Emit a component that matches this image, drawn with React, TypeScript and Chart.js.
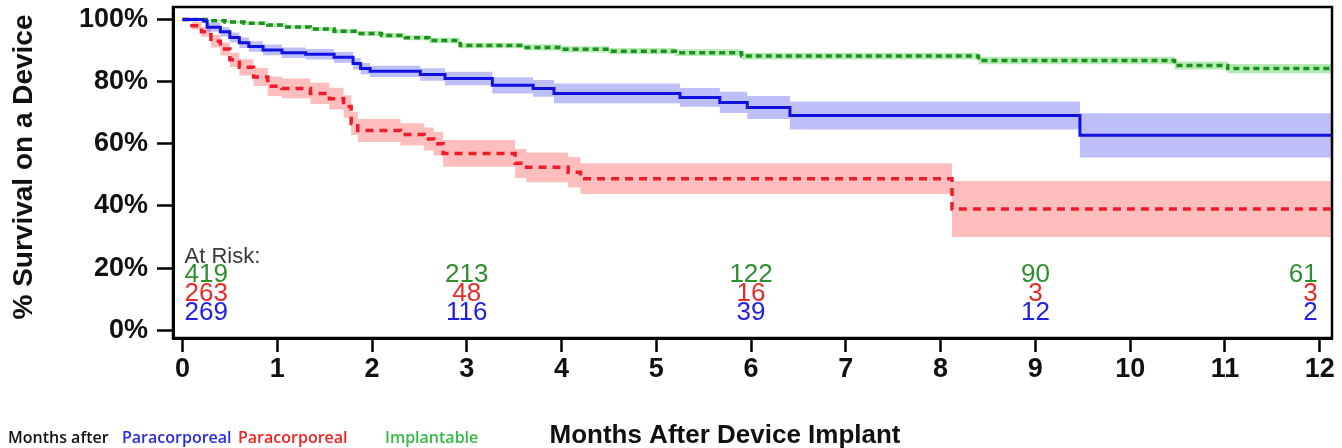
import React, { useEffect, useRef } from 'react';
import { Chart, registerables } from 'chart.js';

Chart.register(...registerables);

// ---------- axis ticks ----------
const xTickMonths = [0, 1, 2, 3, 4, 5, 6, 7, 8, 9, 10, 11, 12];
const yTickValues = [0, 20, 40, 60, 80, 100];

// ---------- Paracorporeal (blue, solid) ----------
const blueTimes = [0, 0.22, 0.26, 0.4, 0.5, 0.6, 0.7, 0.85, 1.05, 1.3, 1.6, 1.8, 1.88, 1.98, 2.51, 2.77, 3.27, 3.7, 3.92, 5.25, 5.67, 5.96, 6.41, 9.47, 12.13];
const blueSurvival = [100, 99.5, 97.5, 96, 94.2, 92.5, 91.3, 90.2, 89.3, 88.8, 87.8, 85.8, 84.2, 83.3, 82.3, 81.0, 78.8, 77.8, 76.2, 74.9, 73.3, 71.7, 69.1, 62.7, 62.7];
const blueUpper = [100, 100, 99, 97.5, 95.8, 94.2, 93, 91.9, 91, 90.5, 89.5, 87.6, 86, 85.1, 84.3, 83.2, 81.4, 80.5, 79.4, 77.9, 76.7, 75.4, 73.6, 69.8, 69.8];
const blueLower = [100, 98.9, 96, 94.5, 92.6, 90.8, 89.6, 88.5, 87.6, 87.1, 86.1, 84, 82.4, 81.5, 80.3, 78.8, 76.2, 75.1, 73, 71.9, 69.9, 68, 64.6, 55.6, 55.6];

// ---------- Paracorporeal (red, dashed) ----------
const redTimes = [0, 0.1, 0.2, 0.3, 0.4, 0.5, 0.6, 0.75, 0.9, 1.05, 1.35, 1.55, 1.7, 1.78, 1.85, 2.3, 2.55, 2.65, 2.75, 3.51, 3.63, 4.07, 4.2, 8.12, 12.13];
const redSurvival = [100, 98, 96, 93, 90.5, 87, 84.6, 81.5, 78.5, 77.8, 76.2, 74.5, 72, 66.5, 64.3, 63, 61.5, 60, 56.9, 53.7, 52.4, 50.8, 48.7, 39, 39];
const redUpper = [100, 99.2, 97.6, 95, 92.6, 89.3, 87.2, 84.4, 81.6, 81.0, 79.6, 78.0, 75.6, 70.2, 68, 66.6, 65.2, 63.8, 61.2, 58.3, 57.2, 55.7, 53.7, 48, 48];
const redLower = [100, 96.8, 94.4, 91, 88.4, 84.7, 82, 78.6, 75.4, 74.6, 72.8, 71.0, 68.4, 62.8, 60.6, 59.4, 57.8, 56.2, 52.6, 49, 47.6, 45.9, 43.8, 30, 30];

// ---------- Implantable (green, dotted) ----------
const greenTimes = [0, 0.25, 0.45, 0.65, 0.9, 1.1, 1.35, 1.6, 1.85, 2.1, 2.35, 2.6, 2.93, 3.6, 4.0, 4.5, 5.2, 5.9, 8.4, 10.47, 11.03, 12.13];
const greenSurvival = [100, 99.6, 99.2, 98.8, 98.2, 97.6, 96.9, 96.2, 95.5, 94.8, 94.1, 93.2, 91.6, 91.0, 90.4, 89.8, 89.3, 88.2, 86.8, 85.2, 84.2, 84.2];
const greenUpper = [100, 99.9, 99.6, 99.3, 98.8, 98.2, 97.6, 96.9, 96.3, 95.6, 94.9, 94.1, 92.5, 92.0, 91.4, 90.8, 90.4, 89.3, 88.0, 86.5, 85.7, 85.7];
const greenLower = [100, 99.3, 98.8, 98.3, 97.6, 97.0, 96.2, 95.5, 94.7, 94.0, 93.3, 92.3, 90.7, 90.0, 89.4, 88.8, 88.2, 87.1, 85.6, 83.9, 82.7, 82.7];

// ---------- numbers at risk ----------
const riskMonths = [0, 3, 6, 9, 12];
const riskImplantable = [419, 213, 122, 90, 61];
const riskParaRed = [263, 48, 16, 3, 3];
const riskParaBlue = [269, 116, 39, 12, 2];

// ---------- texts ----------
const yTitle = '% Survival on a Device';
const xTitle = 'Months After Device Implant';
const atRiskLabel = 'At Risk:';
const legendWords = ['Months after', 'Paracorporeal', 'Paracorporeal', 'Implantable'];

const C_BLUE = '#1212e0';
const C_RED = '#ee1c2a';
const C_GREEN = '#1f8f1f';
const T_GREEN = '#2f8f2f';
const T_RED = '#e82a2a';
const T_BLUE = '#2323dd';

const FONT = '"Liberation Sans", Arial, Helvetica, sans-serif';

function pts(times: number[], vals: number[]) {
  return times.map((t, i) => ({ x: t, y: vals[i] }));
}

const overlayPlugin = {
  id: 'overlay',
  afterDraw(chart: any) {
    const { ctx, chartArea, scales } = chart;
    const xs = scales.x;
    ctx.save();
    // frame
    ctx.strokeStyle = '#000';
    ctx.lineWidth = 2.5;
    ctx.strokeRect(chartArea.left, chartArea.top, chartArea.right - chartArea.left, chartArea.bottom - chartArea.top);

    // at risk label
    ctx.textBaseline = 'alphabetic';
    ctx.font = `22px ${FONT}`;
    ctx.fillStyle = '#3a3a3a';
    ctx.textAlign = 'left';
    ctx.fillText(atRiskLabel, xs.getPixelForValue(0) + 2, 263);

    const rows: [number[], string, number][] = [
      [riskImplantable, T_GREEN, 282],
      [riskParaRed, T_RED, 301],
      [riskParaBlue, T_BLUE, 320],
    ];
    ctx.font = `26px ${FONT}`;
    rows.forEach(([vals, color, yb]) => {
      ctx.fillStyle = color;
      vals.forEach((v, i) => {
        const m = riskMonths[i];
        const px = xs.getPixelForValue(m);
        if (i === 0) {
          ctx.textAlign = 'left';
          ctx.fillText(String(v), px + 2, yb);
        } else if (i === riskMonths.length - 1) {
          ctx.textAlign = 'right';
          ctx.fillText(String(v), px - 2, yb);
        } else {
          ctx.textAlign = 'center';
          ctx.fillText(String(v), px, yb);
        }
      });
    });

    // y title
    ctx.save();
    ctx.translate(24, 167);
    ctx.rotate(-Math.PI / 2);
    ctx.font = `bold 28px ${FONT}`;
    ctx.fillStyle = '#111';
    ctx.textAlign = 'center';
    ctx.textBaseline = 'middle';
    ctx.fillText(yTitle, 0, 0);
    ctx.restore();

    // x title
    ctx.font = `bold 26px ${FONT}`;
    ctx.fillStyle = '#111';
    ctx.textAlign = 'center';
    ctx.textBaseline = 'alphabetic';
    ctx.fillText(xTitle, 725, 443);

    // bottom-left group legend
    ctx.font = `600 16px "Open Sans", "Noto Sans", sans-serif`;
    ctx.textAlign = 'left';
    const legendX = [8, 122, 238, 385];
    const legendC = ['#111', '#2a2ae0', '#ee2222', '#33bb44'];
    legendWords.forEach((w, i) => {
      ctx.fillStyle = legendC[i];
      ctx.fillText(w, legendX[i], 443);
    });
    ctx.restore();
  },
};

export default function App() {
  const ref = useRef<HTMLCanvasElement | null>(null);

  useEffect(() => {
    if (!ref.current) return;
    const band = (data: any, color: string, fill: any) => ({
      data,
      borderColor: 'transparent',
      borderWidth: 0,
      backgroundColor: color,
      pointRadius: 0,
      stepped: true,
      fill,
      order: 5,
    });
    const chart = new Chart(ref.current, {
      type: 'line',
      data: {
        datasets: [
          band(pts(blueTimes, blueUpper), 'rgba(110,110,240,0.45)', '+1'),
          band(pts(blueTimes, blueLower), 'rgba(0,0,0,0)', false),
          band(pts(redTimes, redUpper), 'rgba(255,110,110,0.45)', '+1'),
          band(pts(redTimes, redLower), 'rgba(0,0,0,0)', false),
          band(pts(greenTimes, greenUpper), 'rgba(110,215,110,0.5)', '+1'),
          band(pts(greenTimes, greenLower), 'rgba(0,0,0,0)', false),
          {
            label: 'Paracorporeal (blue)',
            data: pts(blueTimes, blueSurvival),
            borderColor: C_BLUE,
            borderWidth: 3,
            pointRadius: 0,
            stepped: true,
            fill: false,
            order: 1,
          },
          {
            label: 'Paracorporeal (red)',
            data: pts(redTimes, redSurvival),
            borderColor: C_RED,
            borderWidth: 3.5,
            borderDash: [8, 6],
            pointRadius: 0,
            stepped: true,
            fill: false,
            order: 2,
          },
          {
            label: 'Implantable',
            data: pts(greenTimes, greenSurvival),
            borderColor: C_GREEN,
            borderWidth: 3.5,
            borderDash: [6, 4],
            pointRadius: 0,
            stepped: true,
            fill: false,
            order: 3,
          },
        ],
      },
      options: {
        responsive: false,
        animation: false,
        layout: { padding: { top: 7, right: 10, left: 0, bottom: 0 } },
        plugins: {
          legend: { display: false },
          tooltip: { enabled: false },
          title: { display: false },
        },
        scales: {
          x: {
            type: 'linear',
            min: -0.1,
            max: 12.13,
            afterBuildTicks: (scale: any) => {
              scale.ticks = xTickMonths.map((v) => ({ value: v }));
            },
            afterFit: (scale: any) => {
              scale.height = 110;
              scale.paddingLeft = 0;
              scale.paddingRight = 0;
            },
            ticks: {
              autoSkip: false,
              maxRotation: 0,
              padding: 1,
              color: '#111',
              font: { family: FONT, size: 27, weight: 'bold' },
              callback: (v: any) => String(v),
            },
            grid: {
              drawOnChartArea: false,
              drawTicks: true,
              tickLength: 14,
              tickWidth: 2.5,
              tickColor: '#000',
            },
            border: { display: true, color: '#000', width: 3 },
          },
          y: {
            type: 'linear',
            min: -2.5,
            max: 104,
            afterBuildTicks: (scale: any) => {
              scale.ticks = yTickValues.map((v) => ({ value: v }));
            },
            afterFit: (scale: any) => {
              scale.width = 173;
              scale.paddingTop = 0;
              scale.paddingBottom = 0;
            },
            ticks: {
              autoSkip: false,
              padding: 9,
              color: '#111',
              font: { family: FONT, size: 27, weight: 'bold' },
              callback: (v: any) => `${v}%`,
            },
            grid: {
              drawOnChartArea: false,
              drawTicks: true,
              tickLength: 16,
              tickWidth: 2.5,
              tickColor: '#000',
            },
            border: { display: true, color: '#000', width: 3 },
          },
        },
      },
      plugins: [overlayPlugin],
    });
    return () => chart.destroy();
  }, []);

  return (
    <div style={{ position: 'fixed', left: 0, top: 0, width: 1342, height: 448, background: '#fff' }}>
      <canvas ref={ref} width={1342} height={448} style={{ display: 'block' }} />
    </div>
  );
}
